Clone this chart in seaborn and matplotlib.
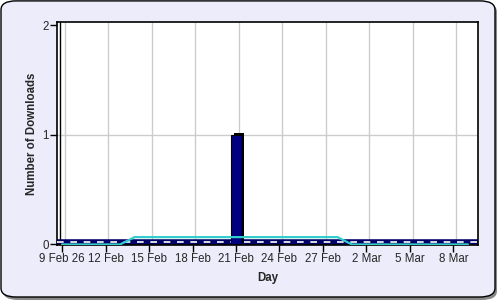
import matplotlib
matplotlib.use("Agg")
import matplotlib.pyplot as plt
import matplotlib.patheffects as pe
from matplotlib.patches import FancyBboxPatch
import seaborn as sns
import pandas as pd
import numpy as np

# ---- data ----
days = pd.date_range("2026-02-09", "2026-03-09", freq="D")
downloads = [0, 0, 0, 0, 0, 0, 0, 0, 0, 0, 0, 0, 1, 0, 0, 0, 0, 0, 0, 0,
             0, 0, 0, 0, 0, 0, 0, 0, 0]
moving_avg = [0, 0, 0, 0, 0, 0.067, 0.067, 0.067, 0.067, 0.067, 0.067, 0.067,
              0.067, 0.067, 0.067, 0.067, 0.067, 0.067, 0.067, 0.067,
              0, 0, 0, 0, 0, 0, 0, 0, 0]
tick_labels = ["9 Feb 26", "12 Feb", "15 Feb", "18 Feb", "21 Feb", "24 Feb",
               "27 Feb", "2 Mar", "5 Mar", "8 Mar"]
y_ticks = [0, 1, 2]

df = pd.DataFrame({"day": np.arange(len(days)), "downloads": downloads,
                   "avg": moving_avg})

sns.set_theme(style="white")
plt.rcParams["font.family"] = ["Liberation Sans", "DejaVu Sans"]

fig = plt.figure(figsize=(5, 3), dpi=100)
fig.patch.set_facecolor("white")

# rounded background panel with shadow
shadow = FancyBboxPatch((0.006, 0.0), 0.988, 0.99,
                        boxstyle="round,pad=0,rounding_size=0.03",
                        transform=fig.transFigure, facecolor="#888888",
                        edgecolor="none", zorder=0)
panel = FancyBboxPatch((0.002, 0.01), 0.988, 0.987,
                       boxstyle="round,pad=0,rounding_size=0.03",
                       transform=fig.transFigure, facecolor="#ECECFA",
                       edgecolor="black", linewidth=1.0, zorder=1)
fig.patches.extend([shadow, panel])

ax = fig.add_axes([0.114, 0.1833, 0.842, 0.7434])
ax.set_facecolor("white")
ax.set_zorder(2)

x_lo, x_hi = -0.35, 28.7
ax.set_xlim(x_lo, x_hi)
ax.set_ylim(-0.005, 2.03)

tick_pos = list(range(0, 30, 3))
# gridlines (shifted back wall)
for t in tick_pos:
    ax.axvline(t + 0.2, color="#CCCCCC", lw=1, zorder=0)
ax.axhline(1.0, color="#CCCCCC", lw=1, zorder=0)
ax.axvline(x_lo + 0.2, color="black", lw=1, zorder=1)

# baseline floor band
ax.axhline(0.018, color="#000066", lw=4.0, zorder=2)
ax.axhline(0.018, color="white", lw=1.2, ls=(0, (4, 4)), zorder=3)

sns.barplot(data=df, x="day", y="downloads", native_scale=True, width=0.7,
            color="#000080", edgecolor="black", linewidth=0.8, ax=ax,
            zorder=4, saturation=1)
for p in ax.patches:
    p.set_path_effects([pe.SimplePatchShadow(offset=(2.2, 1.2),
                                             shadow_rgbFace="black", alpha=1),
                        pe.Normal()])

sns.lineplot(data=df, x="day", y="avg", color="#33CCCC", lw=1.6, ax=ax,
             zorder=5)

ax.set_xticks(tick_pos)
ax.set_xticklabels(tick_labels)
ax.set_yticks(y_ticks)
ax.set_yticklabels([str(v) for v in y_ticks])
ax.tick_params(axis="both", which="both", direction="out", length=5,
               width=1, color="black", labelsize=8.3, pad=1,
               bottom=True, left=True)
for s in ax.spines.values():
    s.set_color("black")
    s.set_linewidth(1.2)

ax.set_xlabel("Day", fontsize=8.3, fontweight="bold", labelpad=5)
ax.set_ylabel("Number of Downloads", fontsize=8.3, fontweight="bold",
              labelpad=3)

fig.savefig("out.png", dpi=100, facecolor=fig.get_facecolor())
